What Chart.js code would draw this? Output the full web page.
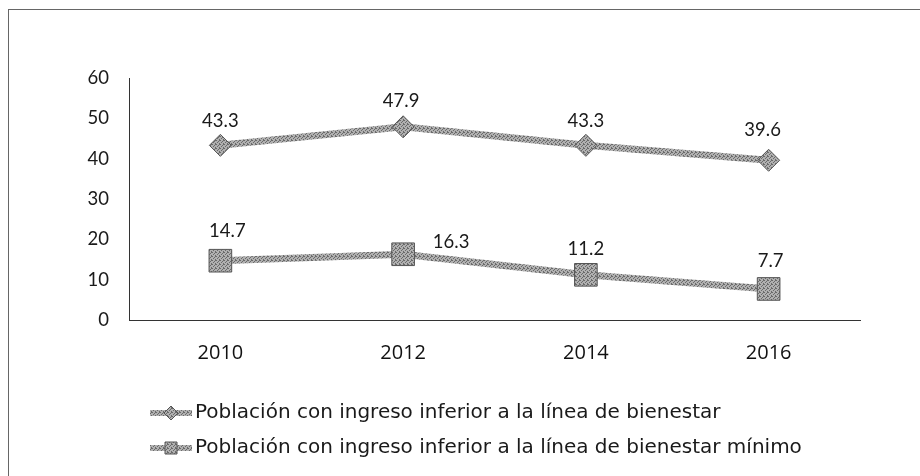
<!DOCTYPE html>
<html><head><meta charset="utf-8">
<script src="https://cdn.jsdelivr.net/npm/chart.js@4.4.1/dist/chart.umd.min.js"></script>
<style>
html,body{margin:0;padding:0;background:#fff;}
#wrap{position:relative;width:920px;height:476px;overflow:hidden;}
#frame{position:absolute;left:8px;top:9px;width:920px;height:480px;border-top:1px solid #666;border-left:1px solid #666;}
canvas{position:absolute;left:0;top:0;}
</style></head><body>
<div id="wrap"><div id="frame"></div><canvas id="c" width="920" height="476"></canvas></div>
<script>
// ---- data ----
const years = ['2010', '2012', '2014', '2016'];
const bienestar = [43.3, 47.9, 43.3, 39.6];
const bienestarMinimo = [14.7, 16.3, 11.2, 7.7];
const seriesNames = [
  'Población con ingreso inferior a la línea de bienestar',
  'Población con ingreso inferior a la línea de bienestar mínimo'
];
const yMin = 0, yMax = 60, yStep = 10;

// label placement (pixel offsets from each point)
const labelOffsets = [
  [[0, -24], [-2, -26], [0, -24], [-6, -30]],
  [[7, -30], [48, -12], [0, -26], [2, -28]]
];

// stippled grey pattern (deterministic dither, like the scanned print)
function makePattern() {
  const p = document.createElement('canvas');
  p.width = 4; p.height = 4;
  const g = p.getContext('2d');
  g.fillStyle = '#b0b0b0'; g.fillRect(0, 0, 4, 4);
  g.fillStyle = '#6a6a6a';
  [[0,0],[2,1],[1,2],[3,3],[3,0]].forEach(([x,y]) => g.fillRect(x, y, 1, 1));
  return document.getElementById('c').getContext('2d').createPattern(p, 'repeat');
}
const grey = makePattern();

const dataLabels = {
  id: 'dataLabels',
  afterDatasetsDraw(chart) {
    const ctx = chart.ctx;
    ctx.save();
    ctx.font = '18.5px Lato';
    ctx.fillStyle = '#1a1a1a';
    ctx.textAlign = 'center';
    ctx.textBaseline = 'middle';
    chart.data.datasets.forEach((ds, i) => {
      chart.getDatasetMeta(i).data.forEach((pt, j) => {
        const off = labelOffsets[i][j];
        ctx.fillText(ds.data[j].toFixed(1), pt.x + off[0], pt.y + off[1]);
      });
    });
    ctx.restore();
  }
};

const customLegend = {
  id: 'customLegend',
  afterDraw(chart) {
    const ctx = chart.ctx;
    const rows = [413, 448];
    ctx.save();
    chart.data.datasets.forEach((ds, i) => {
      const y = rows[i];
      ctx.strokeStyle = grey;
      ctx.lineWidth = 6;
      ctx.beginPath(); ctx.moveTo(150, y); ctx.lineTo(192, y); ctx.stroke();
      ctx.fillStyle = grey; ctx.strokeStyle = '#555'; ctx.lineWidth = 1;
      ctx.beginPath();
      if (i === 0) { ctx.moveTo(171, y - 7); ctx.lineTo(178, y); ctx.lineTo(171, y + 7); ctx.lineTo(164, y); ctx.closePath(); }
      else { ctx.rect(165, y - 6, 12, 12); }
      ctx.fill(); ctx.stroke();
      ctx.fillStyle = '#1a1a1a';
      ctx.font = '20px "DejaVu Sans"';
      ctx.textAlign = 'left';
      ctx.textBaseline = 'middle';
      ctx.fillText(ds.label, 195, y);
    });
    ctx.restore();
  }
};

new Chart(document.getElementById('c'), {
  type: 'line',
  data: {
    labels: years,
    datasets: [
      {
        label: seriesNames[0], data: bienestar,
        borderColor: grey, borderWidth: 7, backgroundColor: grey,
        pointStyle: 'rectRot', pointRadius: 11, pointBorderColor: '#555', pointBorderWidth: 1,
        pointBackgroundColor: grey, tension: 0
      },
      {
        label: seriesNames[1], data: bienestarMinimo,
        borderColor: grey, borderWidth: 7, backgroundColor: grey,
        pointStyle: 'rect', pointRadius: 16, pointBorderColor: '#555', pointBorderWidth: 1,
        pointBackgroundColor: grey, tension: 0
      }
    ]
  },
  options: {
    responsive: false, animation: false, devicePixelRatio: 1,
    layout: { padding: { top: 78, right: 60, bottom: 0, left: 0 } },
    plugins: { legend: { display: false }, tooltip: { enabled: false } },
    scales: {
      x: {
        offset: true,
        grid: { display: false, drawTicks: false },
        border: { display: true, color: '#333', width: 1 },
        ticks: { font: { family: 'Open Sans', size: 20 }, color: '#111', padding: 21 },
        afterFit(s) { s.height = 156; }
      },
      y: {
        min: yMin, max: yMax,
        grid: { display: false, drawTicks: false },
        border: { display: true, color: '#333', width: 1 },
        ticks: { stepSize: yStep, font: { family: 'Lato', size: 18.5 }, color: '#1a1a1a', padding: 20 },
        afterFit(s) { s.width = 129; }
      }
    }
  },
  plugins: [dataLabels, customLegend]
});
</script>
</body></html>
